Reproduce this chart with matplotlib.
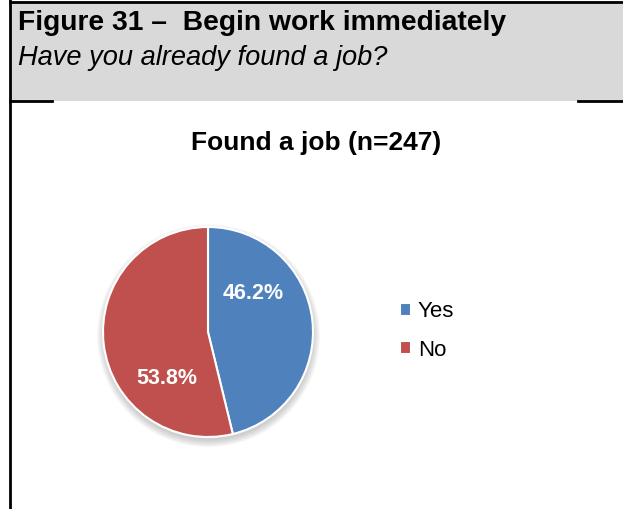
import matplotlib.pyplot as plt
from matplotlib.patches import Rectangle, Circle
from matplotlib.lines import Line2D

plt.rcParams['font.family'] = ['Liberation Sans', 'DejaVu Sans']

labels = ['Yes', 'No']
values = [46.2, 53.8]
colors = ['#4F81BD', '#C0504D']
pct_labels = ['46.2%', '53.8%']

W, H = 623, 509
fig = plt.figure(figsize=(W / 100, H / 100), dpi=100)


def fx(px):
    return px / W


def fy(py):
    return 1 - py / H


# header box
fig.patches.append(Rectangle((fx(10), fy(101)), fx(613), (101 - 1) / H,
                             transform=fig.transFigure, facecolor='#D9D9D9',
                             edgecolor='none', zorder=0))
fig.lines.append(Line2D([fx(10), 1], [fy(1.5), fy(1.5)], transform=fig.transFigure,
                        color='black', lw=2))
fig.lines.append(Line2D([fx(10), fx(10)], [fy(0), 0], transform=fig.transFigure,
                        color='black', lw=2))
fig.lines.append(Line2D([fx(10), fx(52)], [fy(101), fy(101)], transform=fig.transFigure,
                        color='black', lw=2))
fig.lines.append(Line2D([fx(578), 1], [fy(101), fy(101)], transform=fig.transFigure,
                        color='black', lw=2))

fig.text(fx(18), fy(23), 'Figure 31 \u2013  Begin work immediately', fontsize=20.3,
         fontweight='bold', va='center', ha='left')
fig.text(fx(18), fy(58), 'Have you already found a job?', fontsize=19.6,
         style='italic', va='center', ha='left')

fig.text(fx(316), fy(143), 'Found a job (n=247)', fontsize=19, fontweight='bold',
         va='center', ha='center')

# pie
cx, cy, r = 208, 332, 105
ax = fig.add_axes([fx(cx - r - 10), fy(cy + r + 10), 2 * (r + 10) / W, 2 * (r + 10) / H])

# soft shadow under the pie
for k in range(6):
    ax.add_patch(Circle((0.005, -0.035), 1.0 + 0.012 * k, color='#808080',
                        alpha=0.07, lw=0, zorder=0))

wedges, _ = ax.pie(values, colors=colors, startangle=90, counterclock=False,
                   radius=1, wedgeprops=dict(edgecolor='white', linewidth=1.5))
lim = (r + 10) / r
ax.set_xlim(-lim, lim)
ax.set_ylim(-lim, lim)
ax.set_aspect('auto')
ax.axis('off')

label_pos = [(0.43, 0.37), (-0.39, -0.44)]
for txt, (lx, ly) in zip(pct_labels, label_pos):
    ax.text(lx, ly, txt, color='white', fontsize=15.5, fontweight='bold',
            ha='center', va='center', zorder=5)

leg = fig.legend(wedges, labels, loc='center left', bbox_to_anchor=(fx(380), fy(331)),
                 frameon=False, fontsize=16, handlelength=0.5, handleheight=0.5,
                 labelspacing=0.78, handletextpad=0.3)

fig.savefig('out.png', dpi=100)
